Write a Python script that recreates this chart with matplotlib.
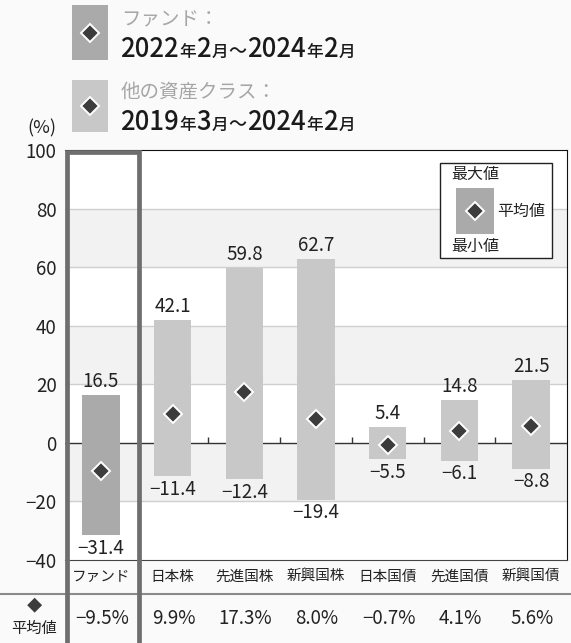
import matplotlib
matplotlib.use("Agg")
import matplotlib.pyplot as plt
from matplotlib.patches import Rectangle
from matplotlib.lines import Line2D

plt.rcParams['font.family'] = ['Noto Sans CJK JP', 'DejaVu Sans']

categories = ['ファンド', '日本株', '先進国株', '新興国株', '日本国債', '先進国債', '新興国債']
max_vals = [16.5, 42.1, 59.8, 62.7, 5.4, 14.8, 21.5]
min_vals = [-31.4, -11.4, -12.4, -19.4, -5.5, -6.1, -8.8]
avg_vals = [-9.5, 9.9, 17.3, 8.0, -0.7, 4.1, 5.6]
y_ticks = [-40, -20, 0, 20, 40, 60, 80, 100]

W, H = 571, 643
FUND_COLOR = '#aaaaaa'
OTHER_COLOR = '#c8c8c8'
DIAMOND = '#3c3c3c'
BOX_COLOR = '#6e6e6e'


def fx(px):
    return px / W


def fy(py):
    return 1 - py / H


def fmt(v):
    s = f"{v:.1f}"
    return s.replace('-', '\u2212')


def text_runs(fig, x, y, parts):
    # draw text pieces one after the other on a shared baseline
    renderer = fig.canvas.get_renderer()
    cur = x
    for txt, size, color, weight in parts:
        t = fig.text(fx(cur), fy(y), txt, fontsize=size, color=color,
                     fontweight=weight, ha='left', va='baseline')
        bb = t.get_window_extent(renderer=renderer)
        cur += bb.width + 0.5


fig = plt.figure(figsize=(W / 100, H / 100), dpi=100, facecolor='#fafafa')
ax = fig.add_axes([fx(65), fy(560), fx(567) - fx(65), fy(150) - fy(560)])
ax.set_facecolor('white')

x = list(range(len(categories)))
ax.set_xlim(-0.5, len(categories) - 0.5)
ax.set_ylim(-40, 100)

# alternating bands and grid
for lo in (60, 20, -20):
    ax.axhspan(lo, lo + 20, color='#f2f2f2', zorder=0, lw=0)
for yv in (-20, 20, 40, 60, 80):
    ax.axhline(yv, color='#cfcfcf', lw=1, zorder=0.5)
ax.axhline(0, color='#333333', lw=1, zorder=1)
ax.plot([i + 0.5 for i in range(1, len(categories) - 1)], [0] * (len(categories) - 2),
        ls='none', marker=2, ms=4.5, mew=1, color='#333333', zorder=1)

heights = [mx - mn for mx, mn in zip(max_vals, min_vals)]
colors = [FUND_COLOR] + [OTHER_COLOR] * (len(categories) - 1)
ax.bar(x, heights, bottom=min_vals, width=0.52, color=colors, zorder=2)
ax.plot(x, avg_vals, ls='none', marker='D', ms=9.5, mfc=DIAMOND, mec='white',
        mew=1.4, zorder=3)

for xi, mx, mn in zip(x, max_vals, min_vals):
    ax.annotate(fmt(mx), (xi, mx), xytext=(0, 2), textcoords='offset points',
                ha='center', va='bottom', fontsize=13.5, color='#222222')
    ax.annotate(fmt(mn), (xi, mn), xytext=(0, -2), textcoords='offset points',
                ha='center', va='top', fontsize=13.5, color='#222222')

ax.set_yticks(y_ticks)
ax.set_yticklabels([fmt(v).replace('.0', '') for v in y_ticks])
ax.tick_params(axis='y', length=0, pad=6, labelsize=13.5, labelcolor='#222222')
ax.set_xticks([])
ax.spines['left'].set_visible(False)
ax.spines['top'].set_color('#111111')
ax.spines['right'].set_color('#111111')
ax.spines['bottom'].set_color('#444444')

fig.text(fx(42), fy(128), '(%)', fontsize=13, color='#222222', ha='center', va='center')

# category row and average row below the plot
for xi, cat in zip(x, categories):
    px = 65 + (xi + 0.5) * (502 / len(categories))
    fig.text(fx(px), fy(577), cat, fontsize=10.5, color='#222222', ha='center', va='center')
    val = f"{avg_vals[xi]:.1f}%".replace('-', '\u2212')
    fig.text(fx(px + 1), fy(619), val, fontsize=13.5, color='#222222', ha='center', va='center')

fig.add_artist(Line2D([0, 1], [fy(594), fy(594)], color='#8a8a8a', lw=1.5,
                      transform=fig.transFigure))
fig.text(fx(34), fy(606), '◆', fontsize=11, color=DIAMOND, ha='center', va='center')
fig.text(fx(34), fy(628), '平均値', fontsize=11, color='#222222', ha='center', va='center')

# highlight box round the fund column
fig.add_artist(Rectangle((fx(67), fy(650)), fx(139) - fx(67), fy(152) - fy(650),
                         fill=False, ec=BOX_COLOR, lw=3.4, transform=fig.transFigure,
                         clip_on=False, zorder=5))

# header legend
fig.add_artist(Rectangle((fx(72), fy(60)), fx(36), fy(5) - fy(60), fc=FUND_COLOR,
                         ec='none', transform=fig.transFigure))
fig.add_artist(Rectangle((fx(72), fy(132)), fx(36), fy(80) - fy(132), fc=OTHER_COLOR,
                         ec='none', transform=fig.transFigure))
for cy in (33, 106):
    fig.add_artist(Line2D([fx(90)], [fy(cy)], marker='D', ms=9.5, mfc=DIAMOND, mec='white',
                          mew=1.4, transform=fig.transFigure))

fig.text(fx(121), fy(25), 'ファンド：', fontsize=14, color='#a6a6a6', ha='left', va='baseline')
fig.text(fx(121), fy(98), '他の資産クラス：', fontsize=14, color='#a6a6a6', ha='left', va='baseline')


def date_parts(y1, m1, y2, m2):
    big, small = 18.5, 12
    c = '#1a1a1a'
    w = 'medium'
    return [(y1, big, c, w), ('年', small, c, w), (m1, big, c, w),
            ('月', small, c, w), ('～', 13, c, w),
            (y2, big, c, w), ('年', small, c, w), (m2, big, c, w),
            ('月', small, c, w)]


text_runs(fig, 120, 57, date_parts('2022', '2', '2024', '2'))
text_runs(fig, 120, 130, date_parts('2019', '3', '2024', '2'))

# in-chart legend
fig.add_artist(Rectangle((fx(440), fy(258)), fx(552) - fx(440), fy(163) - fy(258),
                         fc='white', ec='#222222', lw=1, transform=fig.transFigure, zorder=6))
fig.add_artist(Rectangle((fx(456), fy(234)), fx(38), fy(188) - fy(234), fc=FUND_COLOR,
                         ec='none', transform=fig.transFigure, zorder=7))
fig.add_artist(Line2D([fx(475)], [fy(211)], marker='D', ms=9.5, mfc=DIAMOND, mec='white',
                      mew=1.4, transform=fig.transFigure, zorder=8))
fig.text(fx(451), fy(175), '最大値', fontsize=11.5, color='#222222', ha='left', va='center', zorder=8)
fig.text(fx(497), fy(211), '平均値', fontsize=11.5, color='#222222', ha='left', va='center', zorder=8)
fig.text(fx(451), fy(246), '最小値', fontsize=11.5, color='#222222', ha='left', va='center', zorder=8)

fig.savefig('out.png', dpi=100, facecolor=fig.get_facecolor())
